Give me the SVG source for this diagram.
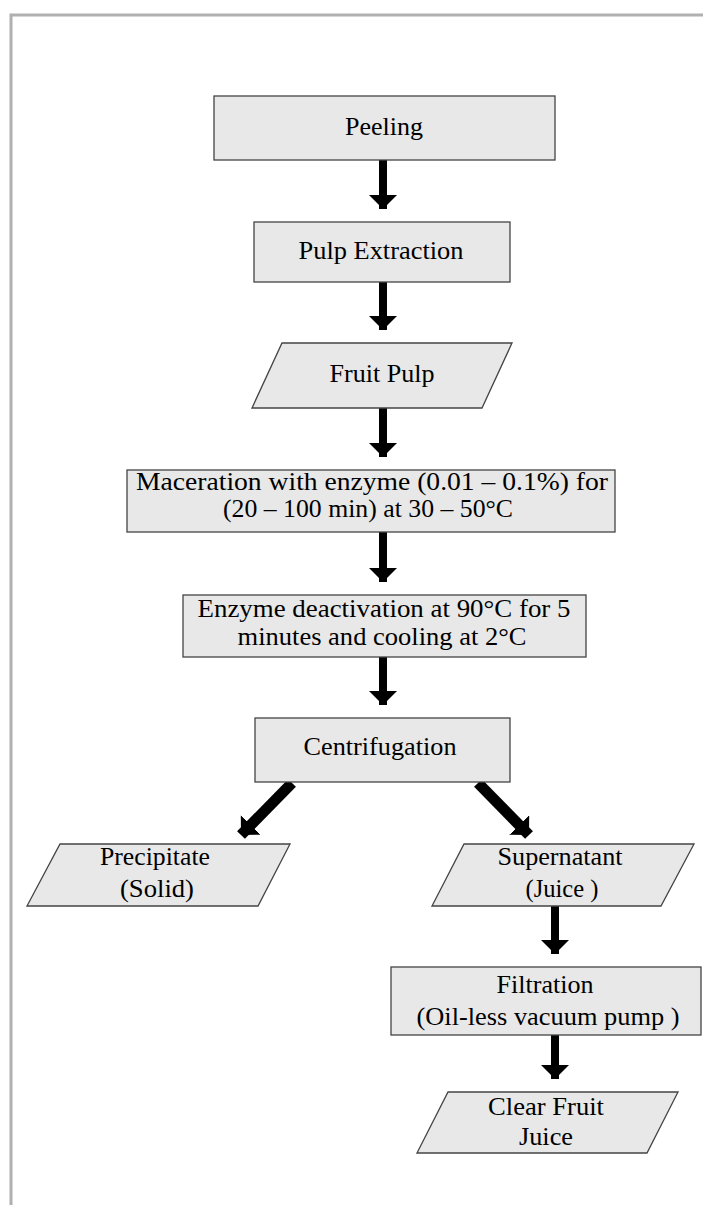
<svg xmlns="http://www.w3.org/2000/svg" width="703" height="1205" viewBox="0 0 703 1205">
<style>
.n{fill:#e8e8e8;stroke:#444;stroke-width:1.3}
.t{font-family:"Liberation Serif","Times New Roman",serif;font-size:26px;fill:#000;text-anchor:middle}
.c{stroke:#000;stroke-width:8;fill:none}
.d{stroke:#000;stroke-width:11;fill:none}
.b{stroke:#b0b0b0;stroke-width:3;fill:none}
</style>
<defs>
<marker id="ah" markerUnits="userSpaceOnUse" markerWidth="28" markerHeight="28" refX="13" refY="13" orient="auto" viewBox="0 0 26 26">
<path d="M0,0 L13,13 L0,26 Z" fill="#000"/>
</marker>
</defs>
<rect width="703" height="1205" fill="#fff"/>
<path class="b" d="M11,1205 V15 H703"/>
<g id="connectors">
<line class="c" x1="383" y1="160" x2="383" y2="209" marker-end="url(#ah)"/>
<line class="c" x1="383" y1="282" x2="383" y2="330" marker-end="url(#ah)"/>
<line class="c" x1="383" y1="408" x2="383" y2="457" marker-end="url(#ah)"/>
<line class="c" x1="383" y1="532" x2="383" y2="582" marker-end="url(#ah)"/>
<line class="c" x1="383" y1="657" x2="383" y2="705" marker-end="url(#ah)"/>
<line class="d" x1="292" y1="783" x2="241" y2="835" marker-end="url(#ah)"/>
<line class="d" x1="478" y1="783" x2="529" y2="835" marker-end="url(#ah)"/>
<line class="c" x1="555" y1="906" x2="555" y2="954" marker-end="url(#ah)"/>
<line class="c" x1="555" y1="1035" x2="555" y2="1079" marker-end="url(#ah)"/>
</g>
<g id="peeling">
<rect class="n" x="214" y="96" width="341" height="64"/>
<text class="t" x="384" y="135" textLength="78" lengthAdjust="spacingAndGlyphs">Peeling</text>
</g>
<g id="pulp-extraction">
<rect class="n" x="254" y="222" width="256" height="60"/>
<text class="t" x="381" y="259" textLength="165" lengthAdjust="spacingAndGlyphs">Pulp Extraction</text>
</g>
<g id="fruit-pulp">
<polygon class="n" points="282,343 512,343 482,408 252,408"/>
<text class="t" x="382" y="382" textLength="105" lengthAdjust="spacingAndGlyphs">Fruit Pulp</text>
</g>
<g id="maceration">
<rect class="n" x="127" y="470" width="488" height="62"/>
<text class="t" x="372" y="490" textLength="472" lengthAdjust="spacingAndGlyphs">Maceration with enzyme  (0.01 – 0.1%) for</text>
<text class="t" x="368" y="517" textLength="290" lengthAdjust="spacingAndGlyphs">(20 – 100 min) at 30 – 50°C</text>
</g>
<g id="enzyme-deactivation">
<rect class="n" x="183" y="595" width="403" height="62"/>
<text class="t" x="384" y="617" textLength="373" lengthAdjust="spacingAndGlyphs">Enzyme deactivation at 90°C for 5</text>
<text class="t" x="382" y="645" textLength="289" lengthAdjust="spacingAndGlyphs">minutes and cooling at 2°C</text>
</g>
<g id="centrifugation">
<rect class="n" x="255" y="718" width="255" height="64"/>
<text class="t" x="380" y="755" textLength="153" lengthAdjust="spacingAndGlyphs">Centrifugation</text>
</g>
<g id="precipitate">
<polygon class="n" points="60,844 290,844 258,906 27,906"/>
<text class="t" x="155" y="865" textLength="110" lengthAdjust="spacingAndGlyphs">Precipitate</text>
<text class="t" x="157" y="897" textLength="74" lengthAdjust="spacingAndGlyphs">(Solid)</text>
</g>
<g id="supernatant">
<polygon class="n" points="464,844 694,844 661,906 432,906"/>
<text class="t" x="560" y="865" textLength="125" lengthAdjust="spacingAndGlyphs">Supernatant</text>
<text class="t" x="562" y="897" textLength="73" lengthAdjust="spacingAndGlyphs">(Juice )</text>
</g>
<g id="filtration">
<rect class="n" x="391" y="967" width="310" height="68"/>
<text class="t" x="545" y="993" textLength="97" lengthAdjust="spacingAndGlyphs">Filtration</text>
<text class="t" x="548" y="1025" textLength="263" lengthAdjust="spacingAndGlyphs">(Oil-less vacuum pump )</text>
</g>
<g id="clear-fruit-juice">
<polygon class="n" points="448,1092 678,1092 647,1153 417,1153"/>
<text class="t" x="546" y="1115" textLength="116" lengthAdjust="spacingAndGlyphs">Clear Fruit</text>
<text class="t" x="546" y="1145" textLength="54" lengthAdjust="spacingAndGlyphs">Juice</text>
</g>
</svg>
